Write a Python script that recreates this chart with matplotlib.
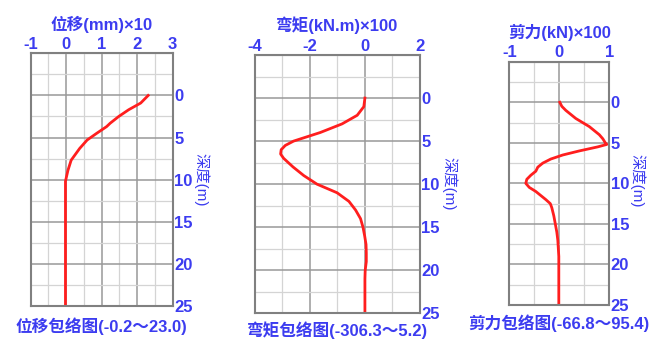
import matplotlib
matplotlib.use("Agg")
import matplotlib.pyplot as plt
from matplotlib.ticker import MultipleLocator

plt.rcParams['font.family'] = ['Liberation Sans', 'Noto Sans CJK SC', 'DejaVu Sans']
plt.rcParams['axes.unicode_minus'] = False

# depth values (m)
depth_disp = [0, 0.9, 1.7, 2.5, 3.3, 3.7, 4.5, 5.3, 6.3, 7.7, 8.9, 10.2, 15, 20, 25]
disp = [2.31, 2.1, 1.76, 1.48, 1.24, 1.14, 0.86, 0.59, 0.38, 0.14, 0.05, -0.02,
        -0.02, -0.02, -0.02]

depth_moment = [0, 1, 2, 3, 4, 5, 5.5, 6, 6.5, 7, 8, 9, 10, 11, 12, 13, 14, 15, 16, 17,
                18, 19, 20, 21, 25]
moment = [0.0, -0.04, -0.28, -0.83, -1.62, -2.59, -2.89, -3.04, -3.06, -2.95, -2.61,
          -2.22, -1.74, -1.01, -0.58, -0.34, -0.16, -0.07, -0.01, 0.04, 0.05, 0.05,
          0.01, 0.0, 0.0]

depth_shear = [0, 0.5, 1, 2, 3, 4, 4.5, 5, 5.2, 5.5, 6, 6.5, 7, 7.5, 8, 8.5, 9, 9.5,
               10, 10.5, 11, 11.5, 12, 12.5, 13, 14, 15, 16, 17, 18, 19, 20, 25]
shear = [0.01, 0.05, 0.13, 0.33, 0.6, 0.8, 0.87, 0.92, 0.95, 0.77, 0.4, 0.07, -0.17,
         -0.33, -0.43, -0.47, -0.57, -0.65, -0.67, -0.6, -0.47, -0.37, -0.27, -0.18,
         -0.15, -0.11, -0.08, -0.05, -0.03, -0.02, -0.01, -0.01, -0.01]

blue = '#3c3cf0'
red = '#ff1e1e'

fig = plt.figure(figsize=(6.57, 3.40), dpi=100)
fig.patch.set_facecolor('white')

panels = [
    dict(rect=[0.0467, 0.1009, 0.2161, 0.742], x=disp, y=depth_disp, xlim=(-1, 3),
         major=1, minor=0.5, title='位移(mm)×10', bottom='位移包络图(-0.2～23.0)',
         bot_y=-0.045, lab=(1.2, 0.50)),
    dict(rect=[0.3877, 0.0785, 0.2516, 0.7597], x=moment, y=depth_moment, xlim=(-4, 2),
         major=2, minor=1, title='弯矩(kN.m)×100', bottom='弯矩包络图(-306.3～5.2)',
         bot_y=-0.03, lab=(1.18, 0.50)),
    dict(rect=[0.7752, 0.1029, 0.1522, 0.7156], x=shear, y=depth_shear, xlim=(-1, 1),
         major=1, minor=0.5, title='剪力(kN)×100', bottom='剪力包络图(-66.8～95.4)',
         bot_y=-0.04, lab=(1.28, 0.51)),
]

for p in panels:
    ax = fig.add_axes(p['rect'])
    ax.set_xlim(*p['xlim'])
    ax.set_ylim(25, -5)
    ax.xaxis.set_major_locator(MultipleLocator(p['major']))
    ax.xaxis.set_minor_locator(MultipleLocator(p['minor']))
    ax.yaxis.set_major_locator(MultipleLocator(5))
    ax.yaxis.set_minor_locator(MultipleLocator(2.5))
    ax.grid(which='major', color='#999999', linewidth=1.1)
    ax.grid(which='minor', color='#d4d4d4', linewidth=0.9)
    ax.set_axisbelow(True)
    ax.xaxis.tick_top()
    ax.yaxis.tick_right()
    ax.tick_params(which='both', length=0, labelcolor=blue, labelsize=12, pad=1)
    ax.set_yticks([0, 5, 10, 15, 20, 25])
    for lbl in ax.get_xticklabels() + ax.get_yticklabels():
        lbl.set_fontweight('bold')
    for s in ax.spines.values():
        s.set_color('#808080')
        s.set_linewidth(1.5)
    ax.plot(p['x'], p['y'], color=red, linewidth=2)
    ax.set_title(p['title'], color=blue, fontsize=12, fontweight='bold', pad=17)
    ax.text(0.5, p['bot_y'], p['bottom'], transform=ax.transAxes, ha='center', va='top',
            color=blue, fontsize=12, fontweight='bold')
    ax.text(p['lab'][0], p['lab'][1], '深度(m)', transform=ax.transAxes, rotation=-90,
            ha='center', va='center', color=blue, fontsize=11)

fig.savefig('out.png', dpi=100)
